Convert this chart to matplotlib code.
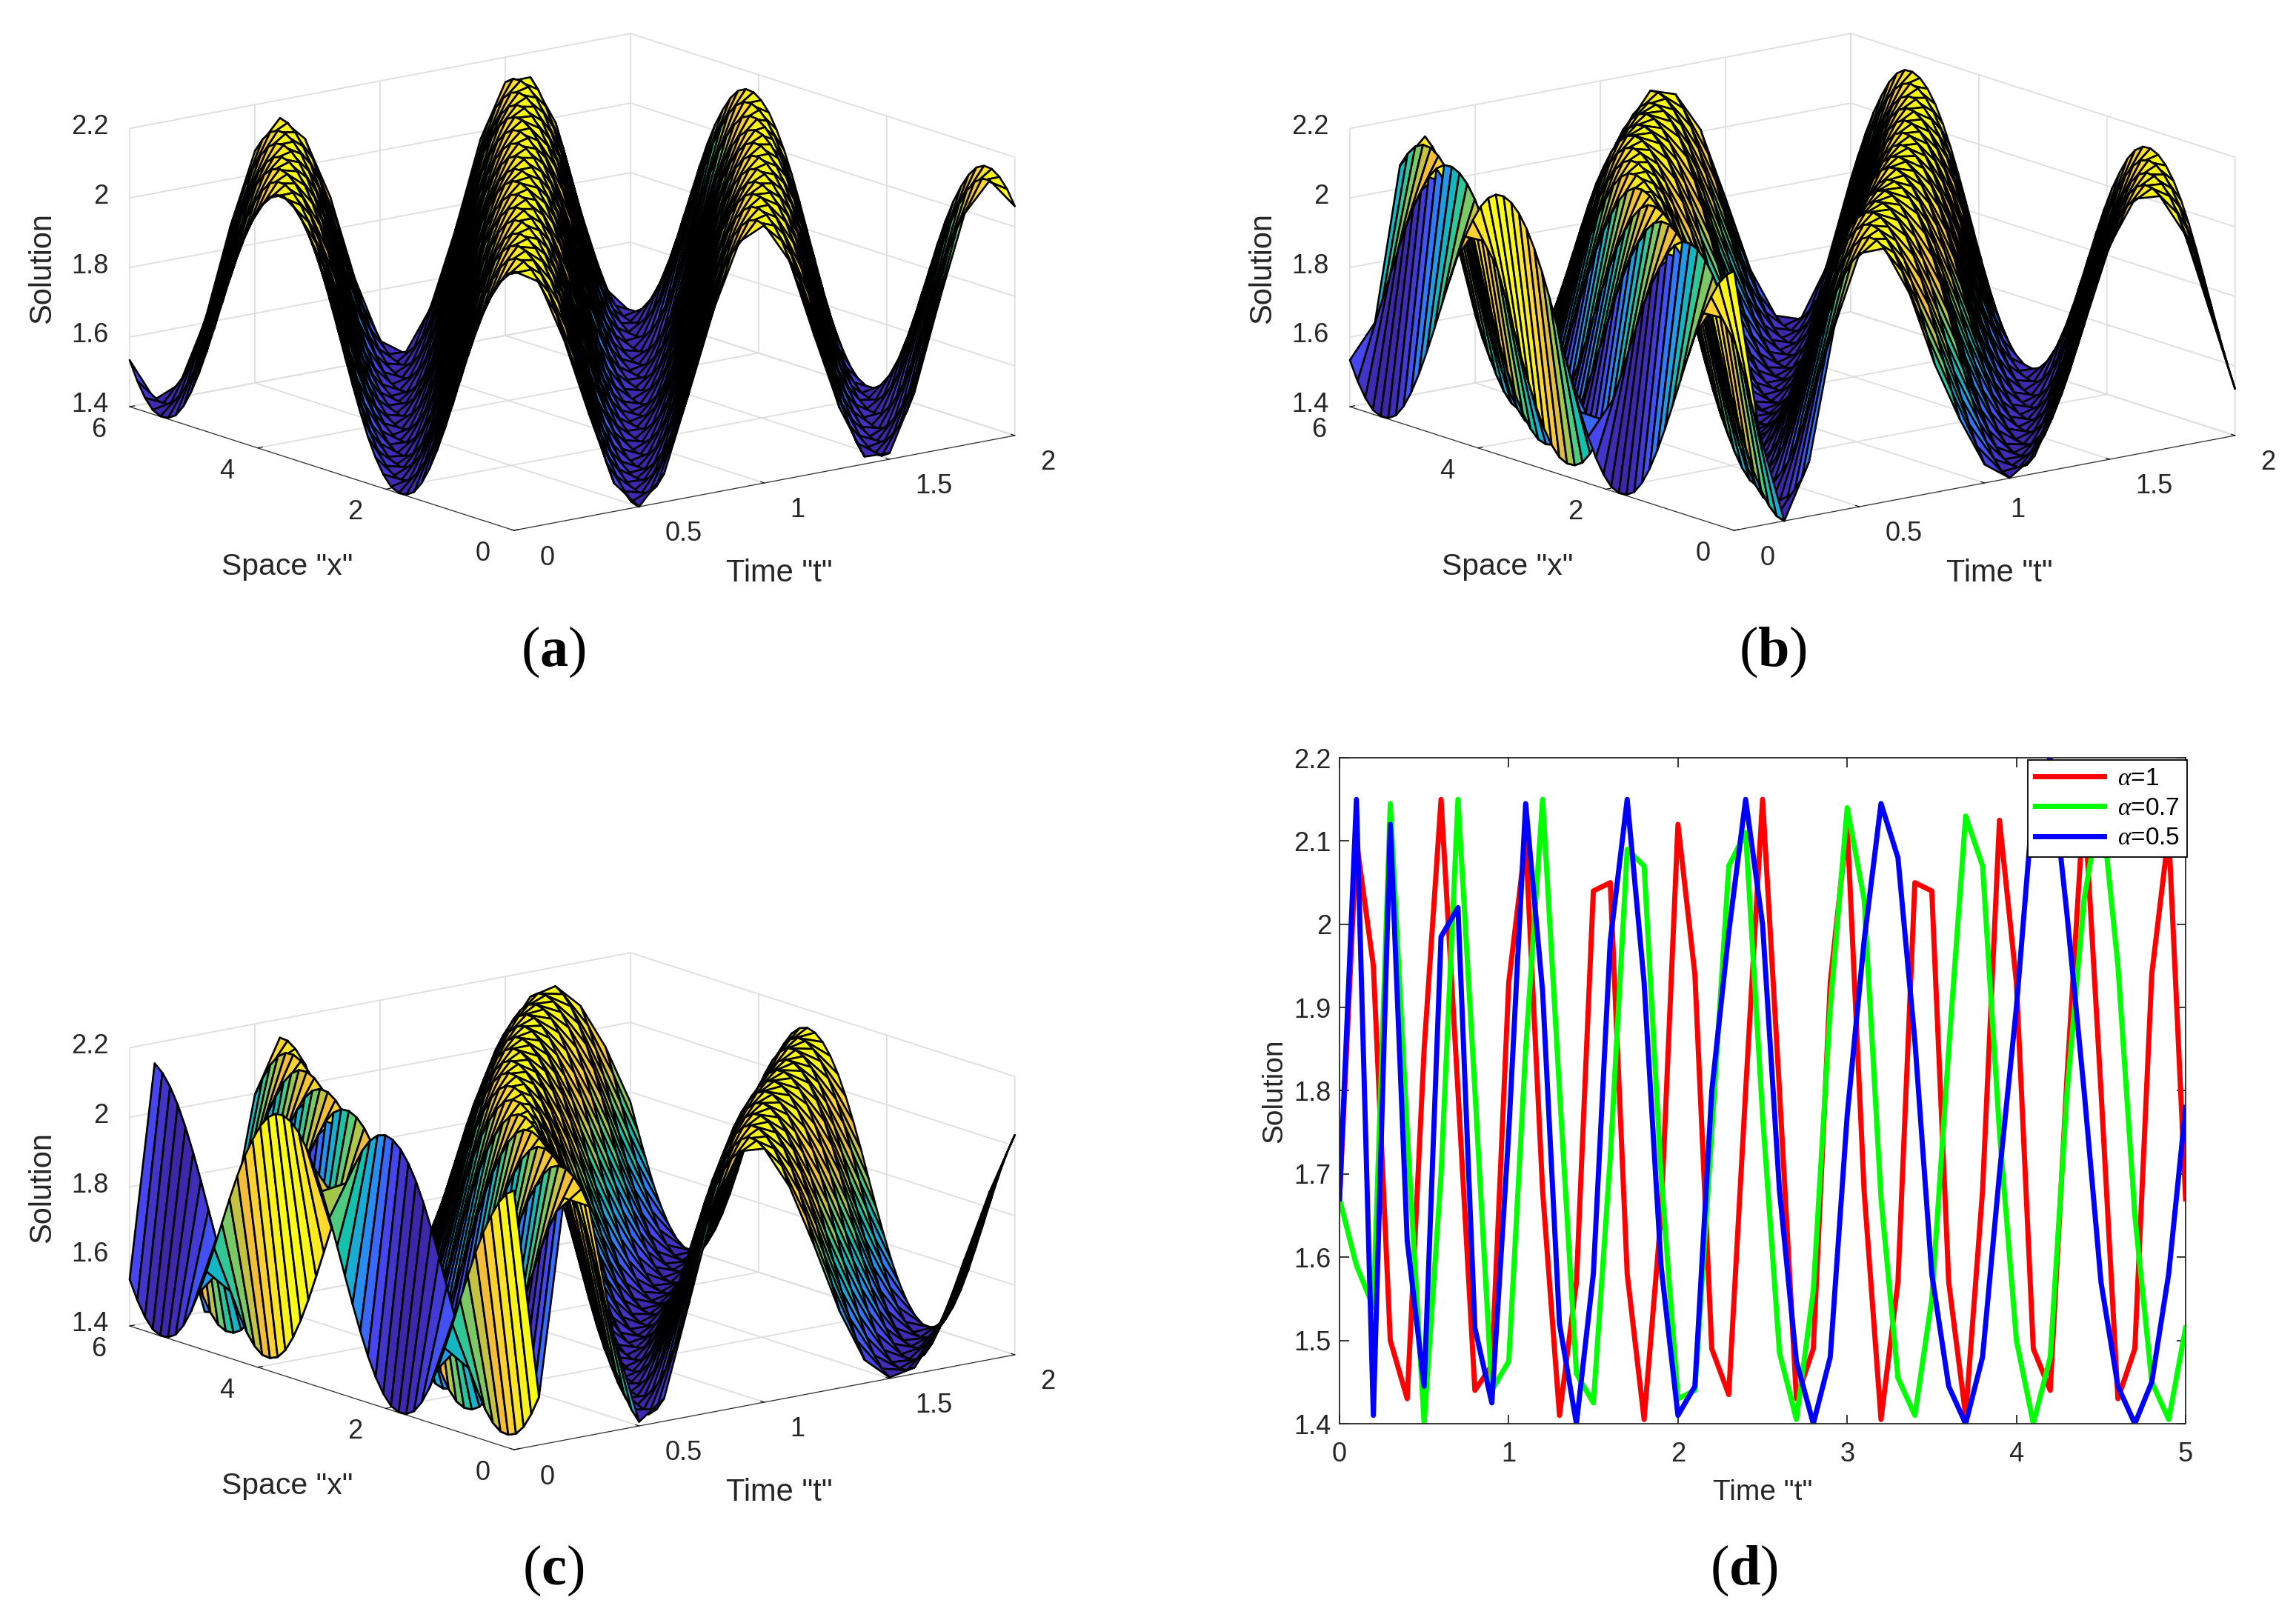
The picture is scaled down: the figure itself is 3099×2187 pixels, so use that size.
import matplotlib
matplotlib.use('Agg')
import matplotlib.pyplot as plt
from matplotlib.colors import LinearSegmentedColormap, Normalize
from mpl_toolkits.mplot3d import proj3d
import numpy as np

plt.rcParams['font.family'] = ['Liberation Sans', 'DejaVu Sans']
plt.rcParams['mathtext.fontset'] = 'custom'
plt.rcParams['mathtext.rm'] = 'Liberation Serif'
plt.rcParams['mathtext.it'] = 'Liberation Serif:italic'
plt.rcParams['mathtext.bf'] = 'Liberation Serif:bold'

W, H = 3099, 2187

# line plot (d), values read at every 0.1 of t
t_line = np.arange(51) / 10
red = [1.67, 2.10, 1.95, 1.50, 1.43, 1.85, 2.15, 1.80, 1.44, 1.47, 1.93, 2.10, 1.68, 1.41, 1.57, 2.04, 2.05,
       1.58, 1.405, 1.65, 2.12, 1.94, 1.49, 1.435, 1.80, 2.15, 1.80, 1.43, 1.49, 1.93, 2.12, 1.68, 1.405, 1.57,
       2.05, 2.04, 1.57, 1.41, 1.68, 2.125, 1.93, 1.49, 1.44, 1.82, 2.15, 1.80, 1.43, 1.49, 1.94, 2.11, 1.67]
green = [1.67, 1.59, 1.54, 2.145, 1.75, 1.40, 1.70, 2.15, 1.80, 1.44, 1.475, 1.85, 2.15, 1.80, 1.46, 1.425, 1.72,
         2.09, 2.07, 1.70, 1.43, 1.44, 1.75, 2.07, 2.11, 1.77, 1.485, 1.405, 1.56, 1.90, 2.14, 2.03, 1.67, 1.455,
         1.41, 1.55, 1.85, 2.13, 2.07, 1.75, 1.50, 1.40, 1.48, 1.80, 2.03, 2.15, 1.95, 1.65, 1.45, 1.405, 1.515]
blue = [1.67, 2.15, 1.41, 2.12, 1.62, 1.445, 1.985, 2.02, 1.515, 1.425, 1.75, 2.145, 1.92, 1.52, 1.40, 1.58, 1.98,
        2.15, 1.93, 1.59, 1.41, 1.445, 1.80, 1.99, 2.15, 2.00, 1.68, 1.475, 1.40, 1.48, 1.77, 1.98, 2.145, 2.08,
        1.86, 1.58, 1.445, 1.40, 1.48, 1.70, 1.90, 2.15, 2.20, 2.01, 1.80, 1.57, 1.445, 1.40, 1.45, 1.58, 1.78]

# surfaces: one wave cross-section (0.04 steps in x, trough first)
# and how far it has moved along x at each 0.1 of t, in those steps, per panel
wave = [1.400, 1.401, 1.403, 1.407, 1.412, 1.421, 1.430, 1.440, 1.453, 1.467,
        1.481, 1.498, 1.515, 1.534, 1.554, 1.575, 1.598, 1.621, 1.644, 1.669,
        1.693, 1.719, 1.744, 1.770, 1.795, 1.821, 1.847, 1.872, 1.896, 1.920,
        1.943, 1.965, 1.986, 2.006, 2.025, 2.043, 2.059, 2.075, 2.088, 2.101,
        2.112, 2.121, 2.129, 2.136, 2.141, 2.145, 2.147, 2.148, 2.147, 2.145,
        2.140, 2.135, 2.128, 2.118, 2.107, 2.096, 2.082, 2.066, 2.050, 2.032,
        2.016, 1.996, 1.975, 1.954, 1.931, 1.907, 1.883, 1.858, 1.832, 1.806,
        1.781, 1.755, 1.729, 1.703, 1.678, 1.652, 1.628, 1.604, 1.581, 1.559,
        1.538, 1.518, 1.499, 1.482, 1.466, 1.451, 1.438, 1.427, 1.418, 1.411,
        1.406, 1.403, 1.401]
move_a = [0, 10, 20, 29, 39, 49, 59, 69, 78, 88, 98, 108, 118, 127, 137, 147, 157, 167, 178, 189, 199]
move_b = [0, 30, 49, 63, 78, 90, 100, 110, 119, 126, 134, 141, 150, 158, 166, 175, 184, 193, 202, 212, 222]
move_c = [0, 62, 87, 106, 123, 138, 151, 163, 174, 184, 193, 202, 210, 218, 226, 233, 240, 247, 255, 262, 269]
trough_at = 44

x_space = np.arange(51) * 0.12
t_space = np.arange(21) / 10

time_ticks = [0, 0.5, 1, 1.5, 2]
time_labels = ['0', '0.5', '1', '1.5', '2']
space_ticks = [0, 2, 4, 6]
space_labels = ['0', '2', '4', '6']
sol_ticks = [1.4, 1.6, 1.8, 2, 2.2]
sol_labels = ['1.4', '1.6', '1.8', '2', '2.2']

parula = LinearSegmentedColormap.from_list('parula', ['#3e26a8', '#4748f1', '#2f7dfb', '#1ea5dc', '#0cbfb3',
                                                       '#4bcb82', '#a7c748', '#f0ba3c', '#fcd52f', '#f9fb15'])
norm = Normalize(1.4, 2.15)
INK = '0.15'


def px_rect(left, top, right, bottom):
    return [left / W, 1 - bottom / H, (right - left) / W, (bottom - top) / H]


def label3d(ax, x, y, z, lab, ha):
    px, py, _ = proj3d.proj_transform(x, y, z, ax.get_proj())
    ax.text2D(px, py, lab, transform=ax.transData, fontsize=26, color=INK, ha=ha, va='center')


def surface_panel(rect, moves):
    ax = fig.add_axes(rect, projection='3d')
    ax.set_proj_type('ortho')
    ax.view_init(elev=14.3, azim=-127.5)
    ax.set_box_aspect((1, 1, 0.455), zoom=1.463)

    Z = np.array([[wave[(3 * j - trough_at - m) % len(wave)] for j in range(len(x_space))] for m in moves])
    T, X = np.meshgrid(t_space, x_space, indexing='ij')
    surf = ax.plot_surface(T, X, Z, facecolors=parula(norm(Z)), rstride=1, cstride=1, shade=False,
                           edgecolor='k', linewidth=1.9, antialiased=True)
    surf.set_clip_on(False)

    ax.set_xlim(0, 2)
    ax.set_ylim(0, 6)
    ax.set_zlim(1.4, 2.2)
    ax.set_xticks(time_ticks, [''] * len(time_ticks))
    ax.set_yticks(space_ticks, [''] * len(space_ticks))
    ax.set_zticks(sol_ticks, [''] * len(sol_ticks))
    for axis in (ax.xaxis, ax.yaxis, ax.zaxis):
        axis.set_pane_color((1, 1, 1, 0))
        axis.pane.set_edgecolor('0.85')
        axis.line.set_color(INK)
        axis._axinfo['grid'].update(color='0.87', linewidth=1.3)
        axis._axinfo['tick'].update(inward_factor=0.0, outward_factor=0.12, color=INK)
    # z axis belongs on the left corner here, matplotlib wants it on the right
    ax.zaxis.line.set_visible(False)
    ax.zaxis._axinfo['tick'].update(inward_factor=0.0, outward_factor=0.0)
    ax.plot([0, 0], [6, 6], [1.4, 2.2], color=INK, lw=1.3)
    for z, lab in zip(sol_ticks, sol_labels):
        ax.plot([0, 0], [6, 6.1], [z, z], color=INK, lw=1.3)
        label3d(ax, -0.04, 6.17, z, lab, 'right')
    for t, lab in zip(time_ticks, time_labels):
        label3d(ax, t, -0.40, 1.345, lab, 'left')
    for s, lab in zip(space_ticks, space_labels):
        label3d(ax, -0.124, s, 1.35, lab, 'center')
    ax.patch.set_alpha(0)
    return ax


fig = plt.figure(figsize=(W / 100, H / 100), dpi=100, facecolor='white')

surface_panel(px_rect(31, -28, 1491, 812), move_a)
surface_panel(px_rect(1678, -28, 3138, 812), move_b)
surface_panel(px_rect(31, 1213, 1491, 2053), move_c)

# axis titles of the three surfaces, same place in each panel
for dx, dy in [(0, 0), (1647, 0), (0, 1241)]:
    fig.text((57 + dx) / W, 1 - (362 + dy) / H, 'Solution', rotation=90, fontsize=30, color=INK, ha='center', va='center')
    fig.text((388 + dx) / W, 1 - (765 + dy) / H, 'Space "x"', fontsize=29.5, color=INK, ha='center', va='center')
    fig.text((1052 + dx) / W, 1 - (774 + dy) / H, 'Time "t"', fontsize=30, color=INK, ha='center', va='center')

ax = fig.add_axes(px_rect(1808, 1023, 2950, 1922))
ax.plot(t_line, red, color='#ff0000', lw=5, label=r'$\alpha$=1')
ax.plot(t_line, green, color='#00ff00', lw=5, label=r'$\alpha$=0.7')
ax.plot(t_line, blue, color='#0000ff', lw=5, label=r'$\alpha$=0.5')
ax.set_xlim(0, 5)
ax.set_ylim(1.4, 2.2)
ax.set_yticks(np.arange(14, 23) / 10, ['1.4', '1.5', '1.6', '1.7', '1.8', '1.9', '2', '2.1', '2.2'])
ax.set_xticks(range(6))
ax.tick_params(axis='both', direction='in', top=True, right=True, labelsize=26, labelcolor=INK, color=INK, length=9, width=1.3)
ax.tick_params(axis='x', pad=17)
ax.tick_params(axis='y', pad=8)
for s in ax.spines.values():
    s.set_color(INK)
    s.set_linewidth(1.3)
ax.set_xlabel('Time "t"', fontsize=28, color=INK, labelpad=12)
ax.set_ylabel('Solution', fontsize=28, color=INK, labelpad=6)
leg = ax.legend(loc='upper right', bbox_to_anchor=(1.002, 0.997), fontsize=24, fancybox=False, framealpha=1,
                edgecolor='k', borderaxespad=0, handlelength=2.8, labelspacing=0.28, borderpad=0.3, handletextpad=0.55)
leg.get_frame().set_linewidth(1.3)

for cap, x, y in [('a', 747, 880), ('b', 2393, 880), ('c', 747, 2120), ('d', 2354, 2120)]:
    fig.text(x / W, 1 - y / H, r'($\mathbf{%s}$)' % cap, fontsize=55, family='Liberation Serif', color='k', ha='center', va='center')

fig.savefig('out.png', dpi=100)
